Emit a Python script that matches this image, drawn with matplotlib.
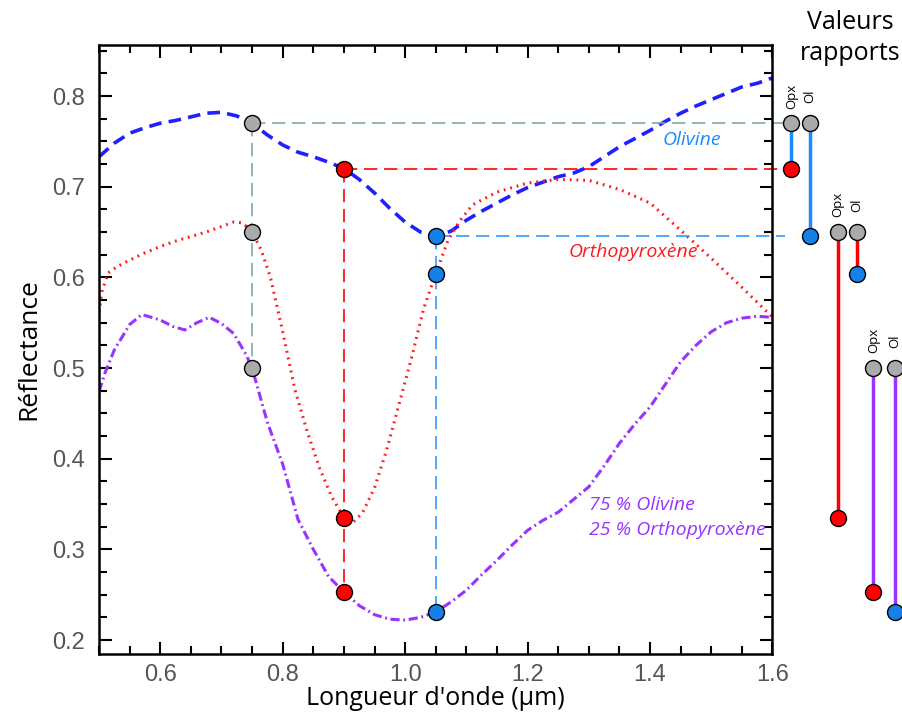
import matplotlib.pyplot as plt
from matplotlib.ticker import MultipleLocator

# spectra (wavelength in um, reflectance)
wl_ol = [0.50, 0.525, 0.55, 0.575, 0.60, 0.625, 0.65, 0.675, 0.70, 0.725, 0.75, 0.775,
         0.80, 0.825, 0.85, 0.875, 0.90, 0.925, 0.95, 0.975, 1.00, 1.025, 1.05, 1.075,
         1.10, 1.125, 1.15, 1.175, 1.20, 1.225, 1.25, 1.275, 1.30, 1.325, 1.35, 1.375,
         1.40, 1.425, 1.45, 1.475, 1.50, 1.525, 1.55, 1.575, 1.60]
ref_ol = [0.733, 0.748, 0.759, 0.765, 0.770, 0.773, 0.777, 0.781, 0.782, 0.778, 0.770, 0.757,
          0.746, 0.738, 0.733, 0.727, 0.720, 0.708, 0.693, 0.676, 0.661, 0.650, 0.646, 0.651,
          0.663, 0.673, 0.682, 0.691, 0.699, 0.705, 0.711, 0.715, 0.722, 0.733, 0.744, 0.753,
          0.762, 0.772, 0.781, 0.789, 0.796, 0.803, 0.810, 0.814, 0.820]

wl_opx = [0.50, 0.505, 0.515, 0.53, 0.55, 0.575, 0.60, 0.625, 0.65, 0.675, 0.70, 0.72,
          0.735, 0.75, 0.765, 0.78, 0.80, 0.82, 0.84, 0.86, 0.88, 0.90, 0.915, 0.93,
          0.95, 0.97, 0.99, 1.01, 1.03, 1.05, 1.07, 1.09, 1.11, 1.15, 1.20, 1.25,
          1.30, 1.35, 1.40, 1.45, 1.50, 1.55, 1.60]
ref_opx = [0.562, 0.585, 0.605, 0.612, 0.619, 0.627, 0.634, 0.640, 0.645, 0.650, 0.656, 0.661,
           0.660, 0.650, 0.630, 0.600, 0.540, 0.476, 0.430, 0.390, 0.358, 0.335, 0.330, 0.340,
           0.368, 0.410, 0.460, 0.510, 0.565, 0.604, 0.641, 0.663, 0.680, 0.694, 0.704, 0.708,
           0.707, 0.697, 0.682, 0.652, 0.621, 0.589, 0.556]

wl_mix = [0.50, 0.51, 0.525, 0.55, 0.57, 0.60, 0.62, 0.64, 0.66, 0.68, 0.70, 0.72,
          0.74, 0.75, 0.775, 0.80, 0.825, 0.85, 0.875, 0.90, 0.925, 0.95, 0.975, 1.00,
          1.025, 1.05, 1.075, 1.10, 1.125, 1.15, 1.175, 1.20, 1.225, 1.25, 1.275, 1.30,
          1.325, 1.35, 1.375, 1.40, 1.425, 1.45, 1.475, 1.50, 1.525, 1.55, 1.575, 1.60]
ref_mix = [0.474, 0.495, 0.520, 0.548, 0.559, 0.553, 0.546, 0.542, 0.550, 0.556, 0.549, 0.538,
           0.515, 0.500, 0.440, 0.394, 0.333, 0.300, 0.270, 0.253, 0.238, 0.228, 0.223, 0.222,
           0.225, 0.231, 0.242, 0.255, 0.272, 0.288, 0.305, 0.321, 0.332, 0.341, 0.355, 0.369,
           0.392, 0.417, 0.438, 0.457, 0.482, 0.507, 0.525, 0.540, 0.550, 0.555, 0.557, 0.556]

# continuum / band points
wl_cont = 0.75
wl_opx_band = 0.90
wl_ol_band = 1.05
cont = [0.770, 0.650, 0.500]     # olivine, opx, mix at 0.75
opx_band = [0.720, 0.335, 0.253]  # at 0.90
ol_band = [0.646, 0.604, 0.231]   # at 1.05

# columns of the "valeurs rapports" panel (in wavelength units, outside the axes)
col_x = [(1.631, 1.661), (1.707, 1.738), (1.765, 1.800)]
col_colors = ['#1a8cff', '#ff0000', '#9933ff']
label_y = [0.80, 0.68, 0.53]

c_gray = '#aaaaaa'
c_red = '#ff0000'
c_blue = '#1580e8'
c_teal = '#7fa8a8'

plt.rcParams['font.family'] = ['Open Sans', 'DejaVu Sans']

fig = plt.figure(figsize=(9.02, 7.15), dpi=100)
ax = fig.add_axes([0.1098, 0.0853, 0.7466, 0.8517])

ax.plot(wl_ol, ref_ol, color='#1f1fff', lw=2.6, dashes=(3.5, 2))
ax.plot(wl_opx, ref_opx, color='#ff1a1a', lw=2.2, dashes=(0.6, 1.6))
ax.plot(wl_mix, ref_mix, color='#9933ff', lw=2.2, dashes=(3, 1.2, 0.6, 1.2))

# guide lines
ax.plot([wl_cont, wl_cont], [cont[0], cont[2]], color=c_teal, lw=1.2, dashes=(8, 4))
ax.plot([wl_cont, 1.62], [cont[0], cont[0]], color=c_teal, lw=1.2, dashes=(8, 4), clip_on=False)
ax.plot([wl_opx_band, wl_opx_band], [opx_band[0], opx_band[2]], color=c_red, lw=1.2, dashes=(8, 4))
ax.plot([wl_opx_band, 1.62], [opx_band[0], opx_band[0]], color=c_red, lw=1.2, dashes=(8, 4), clip_on=False)
ax.plot([wl_ol_band, wl_ol_band], [ol_band[0], ol_band[2]], color='#3399ff', lw=1.2, dashes=(8, 4))
ax.plot([wl_ol_band, 1.62], [ol_band[0], ol_band[0]], color='#3399ff', lw=1.2, dashes=(8, 4), clip_on=False)

mk = dict(marker='o', ms=11.5, mec='black', mew=1, ls='none', zorder=5, clip_on=False)
ax.plot([wl_cont] * 3, cont, mfc=c_gray, **mk)
ax.plot([wl_opx_band] * 3, opx_band, mfc=c_red, **mk)
ax.plot([wl_ol_band] * 3, ol_band, mfc=c_blue, **mk)

# ratio panel
for i in range(3):
    xo, xl = col_x[i]
    ax.plot([xo, xo], [cont[i], opx_band[i]], color=col_colors[i], lw=2.5, clip_on=False, zorder=4)
    ax.plot([xl, xl], [cont[i], ol_band[i]], color=col_colors[i], lw=2.5, clip_on=False, zorder=4)
    ax.plot([xo, xl], [cont[i], cont[i]], mfc=c_gray, **mk)
    ax.plot([xo], [opx_band[i]], mfc=c_red, **mk)
    ax.plot([xl], [ol_band[i]], mfc=c_blue, **mk)
    ax.text(xo, label_y[i], 'Opx', rotation=90, ha='center', va='center', fontsize=9.5, clip_on=False)
    ax.text(xl, label_y[i], 'Ol', rotation=90, ha='center', va='center', fontsize=9.5, clip_on=False)

fig.text(0.943, 0.947, 'Valeurs\nrapports', ha='center', va='center', fontsize=18, linespacing=1.3)

ax.text(1.468, 0.752, 'Olivine', color='#1a8cff', style='italic', fontsize=14, ha='center', va='center')
ax.text(1.373, 0.628, 'Orthopyroxène', color='#ff1a1a', style='italic', fontsize=14, ha='center', va='center')
ax.text(1.30, 0.349, '75 % Olivine', color='#9933ff', style='italic', fontsize=14, ha='left', va='center')
ax.text(1.30, 0.321, '25 % Orthopyroxène', color='#9933ff', style='italic', fontsize=14, ha='left', va='center')

ax.set_xlim(0.5, 1.6)
ax.set_ylim(0.1846, 0.8562)
ax.xaxis.set_major_locator(MultipleLocator(0.2))
ax.xaxis.set_minor_locator(MultipleLocator(0.05))
ax.yaxis.set_major_locator(MultipleLocator(0.1))
ax.yaxis.set_minor_locator(MultipleLocator(0.025))
ax.tick_params(which='both', direction='in', top=True, right=True, width=1.5, colors='black',
               labelcolor='#555555', labelsize=17)
ax.tick_params(axis='x', pad=7)
ax.tick_params(axis='y', pad=10)
ax.tick_params(which='major', length=9)
ax.tick_params(which='minor', length=6)
for lab in ax.get_xticklabels() + ax.get_yticklabels():
    lab.set_family(['Liberation Sans', 'DejaVu Sans'])
for s in ax.spines.values():
    s.set_linewidth(1.8)

ax.set_xlabel("Longueur d'onde (µm)", fontsize=18, labelpad=0)
ax.set_ylabel('Réflectance', fontsize=19, labelpad=8)

fig.savefig('out.png', dpi=100)
